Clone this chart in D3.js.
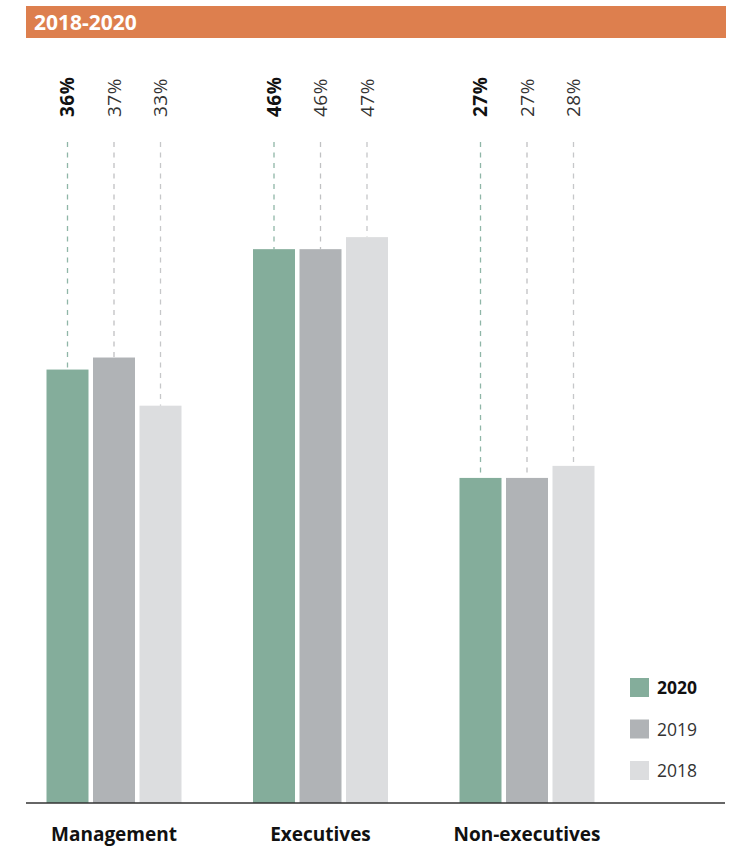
<!DOCTYPE html>
<html>
<head>
<meta charset="utf-8">
<script src="https://cdn.jsdelivr.net/npm/d3@7"></script>
<style>
  html, body { margin: 0; padding: 0; background: #fff; }
  svg { display: block; font-family: "Open Sans", "DejaVu Sans", sans-serif; }
</style>
</head>
<body>
<svg id="chart" width="749" height="847"></svg>
<script>
// Share of women by staff level, 2018-2020 (percent)
const title = "2018-2020";
const categories = ["Management", "Executives", "Non-executives"];
const series = ["2020", "2019", "2018"];
const values2020 = [36, 46, 27];
const values2019 = [37, 46, 27];
const values2018 = [33, 47, 28];

const seriesValues = { "2020": values2020, "2019": values2019, "2018": values2018 };
const barColors = { "2020": "#84ad9b", "2019": "#b0b3b6", "2018": "#dcdddf" };
const leaderColors = { "2020": "#8fb6a7", "2019": "#c0c1c3", "2018": "#c6c7c9" };

const svg = d3.select("#chart");

// Header band
svg.append("rect")
  .attr("x", 26).attr("y", 6).attr("width", 700).attr("height", 32)
  .attr("fill", "#dd7f4e");
svg.append("text")
  .attr("x", 34).attr("y", 30)
  .attr("fill", "#fff").attr("font-weight", 700).attr("font-size", 21)
  .text(title);

// Scales
const baseline = 803;
const y = d3.scaleLinear().domain([0, 50]).range([baseline, baseline - 50 * 12.04]);
const x0 = d3.scaleBand().domain(categories).range([10.75, 10.75 + 3 * 206.5]);
const x1 = d3.scaleBand().domain(series)
  .range([35.75, 35.75 + 135])
  .paddingInner(4.5 / 46.5).paddingOuter(0);

const rows = [];
categories.forEach((c, i) => series.forEach(s => rows.push({ cat: c, s, v: seriesValues[s][i] })));

const g = svg.append("g");
const leaderTop = 142;

// Dashed leader lines from label to bar top
g.selectAll("line.leader").data(rows).join("line")
  .attr("class", "leader")
  .attr("x1", d => x0(d.cat) + x1(d.s) + x1.bandwidth() / 2)
  .attr("x2", d => x0(d.cat) + x1(d.s) + x1.bandwidth() / 2)
  .attr("y1", leaderTop)
  .attr("y2", d => y(d.v))
  .attr("stroke", d => leaderColors[d.s])
  .attr("stroke-width", 1.3)
  .attr("stroke-dasharray", "5,5.5");

// Bars
g.selectAll("rect.bar").data(rows).join("rect")
  .attr("class", "bar")
  .attr("x", d => x0(d.cat) + x1(d.s))
  .attr("y", d => y(d.v))
  .attr("width", x1.bandwidth())
  .attr("height", d => baseline - y(d.v))
  .attr("fill", d => barColors[d.s]);

// Rotated value labels
g.selectAll("text.val").data(rows).join("text")
  .attr("class", "val")
  .attr("transform", d => `translate(${x0(d.cat) + x1(d.s) + x1.bandwidth() / 2},117) rotate(-90)`)
  .attr("dy", "0.36em")
  .attr("text-anchor", "start")
  .attr("font-size", 19)
  .attr("letter-spacing", 0.5)
  .attr("font-weight", d => d.s === "2020" ? 700 : 400)
  .attr("fill", d => d.s === "2020" ? "#111" : "#333")
  .text(d => d.v + "%");

// Baseline axis
const xAxis = d3.axisBottom(x0).tickSize(0).tickPadding(0);
const axisG = svg.append("g").attr("transform", `translate(0,${baseline})`).call(xAxis);
axisG.select(".domain").remove();
axisG.append("line")
  .attr("x1", 26).attr("x2", 725).attr("y1", 0).attr("y2", 0)
  .attr("stroke", "#333").attr("stroke-width", 1.3);
axisG.selectAll(".tick text")
  .attr("y", 38).attr("dy", 0)
  .attr("font-family", "'Open Sans', sans-serif")
  .attr("font-size", 19).attr("font-weight", 700).attr("fill", "#111");

// Legend
const legend = svg.append("g").attr("transform", "translate(630,678)");
const li = legend.selectAll("g").data(series).join("g")
  .attr("transform", (d, i) => `translate(0,${i * 41.5})`);
li.append("rect").attr("width", 19).attr("height", 19).attr("fill", d => barColors[d]);
li.append("text")
  .attr("x", 27).attr("y", 16)
  .attr("font-size", 17.5)
  .attr("font-weight", d => d === "2020" ? 700 : 400)
  .attr("fill", d => d === "2020" ? "#111" : "#333")
  .text(d => d);
</script>
</body>
</html>
